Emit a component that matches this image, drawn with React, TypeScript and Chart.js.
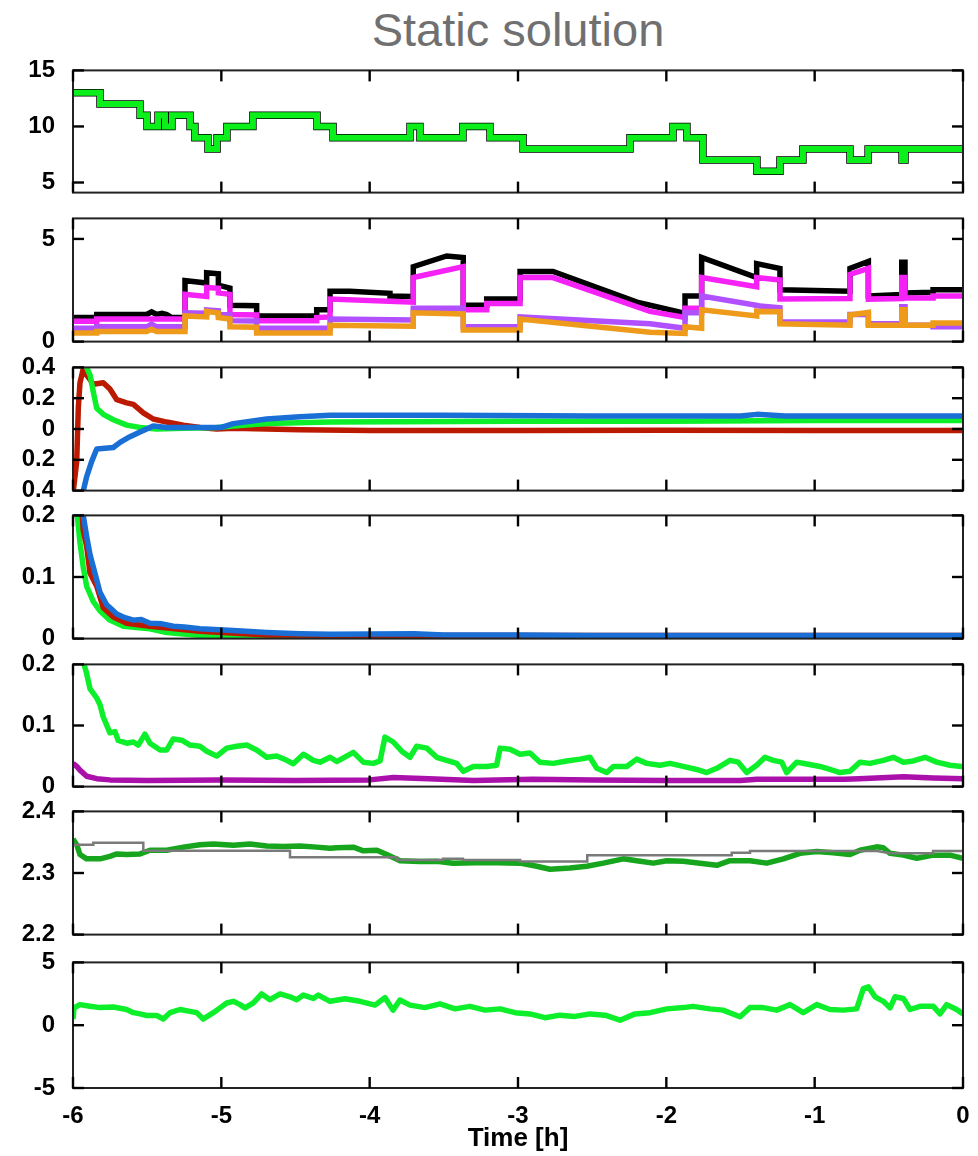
import React, { useEffect, useRef } from 'react';
import { Chart, registerables } from 'chart.js';

Chart.register(...registerables);

type Pt = [number, number];

// ---------- axis ticks ----------
const X_TICKS = [-6, -5, -4, -3, -2, -1, 0];
const P1_TICKS = [5, 10, 15];
const P2_TICKS = [0, 5];
const P3_TICKS = [-0.4, -0.2, 0, 0.2, 0.4];
const P4_TICKS = [0, 0.1, 0.2];
const P5_TICKS = [0, 0.1, 0.2];
const P6_TICKS = [2.2, 2.3, 2.4];
const P7_TICKS = [-5, 0, 5];

// ---------- panel 1 (stepped) ----------
const P1_STEPS: Pt[] = [
  [-6, 13], [-5.818, 12], [-5.548, 11], [-5.501, 10], [-5.427, 11], [-5.38, 10], [-5.333, 11],
  [-5.211, 10], [-5.178, 9], [-5.09, 8], [-5.029, 9], [-4.962, 10], [-4.787, 11], [-4.355, 10],
  [-4.247, 9], [-3.728, 10], [-3.661, 9], [-3.371, 10], [-3.189, 9], [-2.966, 8], [-2.245, 9],
  [-1.955, 10], [-1.861, 9], [-1.753, 7], [-1.389, 6], [-1.234, 7], [-1.079, 8], [-0.762, 7],
  [-0.64, 8], [-0.411, 7], [-0.391, 8], [0, 8],
];

// ---------- panel 2 ----------
const P2_BLACK: Pt[] = [
  [-6, 1.17], [-5.84, 1.17], [-5.84, 1.32], [-5.503, 1.32], [-5.47, 1.45], [-5.436, 1.32], [-5.4, 1.38],
  [-5.368, 1.32], [-5.335, 1.17], [-5.245, 1.17], [-5.245, 2.97], [-5.099, 2.85], [-5.099, 3.35],
  [-5.02, 3.3], [-5.02, 2.75], [-4.942, 2.6], [-4.942, 1.77], [-4.762, 1.75], [-4.762, 1.25],
  [-4.357, 1.25], [-4.357, 1.55], [-4.267, 1.55], [-4.267, 2.45], [-4.133, 2.45], [-3.863, 2.35],
  [-3.863, 2.22], [-3.706, 2.2], [-3.706, 3.65], [-3.481, 4.17], [-3.369, 4.1], [-3.369, 1.77],
  [-3.211, 1.77], [-3.211, 2.07], [-2.986, 2.07], [-2.986, 3.42], [-2.764, 3.42], [-2.198, 1.92],
  [-2.11, 1.77], [-1.886, 1.4], [-1.874, 1.4], [-1.874, 2.22], [-1.762, 2.22], [-1.762, 4.1],
  [-1.391, 3.12], [-1.391, 3.8], [-1.234, 3.56], [-1.234, 2.52], [-0.762, 2.45], [-0.762, 3.57],
  [-0.638, 3.9], [-0.638, 2.22], [-0.413, 2.3], [-0.413, 3.87], [-0.391, 3.87], [-0.391, 2.37],
  [-0.202, 2.4], [-0.202, 2.52], [0, 2.52],
];
const P2_MAGENTA: Pt[] = [
  [-6, 0.99], [-5.84, 0.99], [-5.84, 1.1], [-5.245, 1.1], [-5.245, 2.3], [-5.099, 2.2], [-5.099, 2.64],
  [-5.02, 2.6], [-5.02, 2.37], [-4.942, 2.3], [-4.942, 1.32], [-4.762, 1.3], [-4.762, 1.02],
  [-4.357, 1.02], [-4.357, 1.17], [-4.267, 1.2], [-4.267, 2.07], [-3.706, 1.92], [-3.706, 3.12],
  [-3.369, 3.65], [-3.369, 1.55], [-3.211, 1.55], [-3.211, 1.85], [-2.986, 1.85], [-2.986, 3.12],
  [-2.764, 3.12], [-2.11, 1.47], [-1.874, 1.17], [-1.874, 1.62], [-1.762, 1.62], [-1.762, 3.12],
  [-1.391, 2.67], [-1.391, 3.12], [-1.234, 3.0], [-1.234, 2.07], [-0.762, 2.1], [-0.762, 3.27],
  [-0.638, 3.57], [-0.638, 2.07], [-0.413, 2.1], [-0.413, 3.12], [-0.391, 3.12], [-0.391, 2.12],
  [-0.202, 2.12], [-0.202, 2.22], [0, 2.22],
];
const P2_PURPLE: Pt[] = [
  [-6, 0.65], [-5.84, 0.65], [-5.84, 0.72], [-5.503, 0.72], [-5.47, 0.85], [-5.436, 0.72], [-5.245, 0.72],
  [-5.245, 1.4], [-5.099, 1.38], [-5.099, 1.54], [-5.02, 1.5], [-5.02, 1.32], [-4.942, 1.3],
  [-4.942, 1.02], [-4.762, 1.0], [-4.762, 0.65], [-4.267, 0.65], [-4.267, 1.1], [-3.706, 1.05],
  [-3.706, 1.62], [-3.369, 1.62], [-3.369, 0.72], [-2.986, 0.72], [-2.986, 1.2], [-2.11, 0.87],
  [-1.874, 0.65], [-1.874, 1.4], [-1.762, 1.4], [-1.762, 2.22], [-1.391, 1.77], [-1.391, 1.75],
  [-1.234, 1.65], [-1.234, 0.95], [-0.762, 0.95], [-0.762, 1.32], [-0.638, 1.32], [-0.638, 0.87],
  [-0.413, 0.87], [-0.413, 1.7], [-0.391, 1.7], [-0.391, 0.8], [-0.202, 0.8], [-0.202, 0.72], [0, 0.72],
];
const P2_ORANGE: Pt[] = [
  [-6, 0.42], [-5.84, 0.42], [-5.84, 0.49], [-5.503, 0.49], [-5.47, 0.6], [-5.436, 0.49], [-5.245, 0.49],
  [-5.245, 1.25], [-5.099, 1.2], [-5.099, 1.47], [-5.02, 1.4], [-5.02, 1.17], [-4.942, 1.1],
  [-4.942, 0.72], [-4.762, 0.7], [-4.762, 0.42], [-4.267, 0.42], [-4.267, 0.8], [-3.706, 0.75],
  [-3.706, 1.4], [-3.369, 1.35], [-3.369, 0.57], [-2.986, 0.57], [-2.986, 1.1], [-2.11, 0.45],
  [-1.874, 0.4], [-1.874, 0.72], [-1.762, 0.65], [-1.762, 1.55], [-1.391, 1.25], [-1.391, 1.47],
  [-1.234, 1.45], [-1.234, 0.87], [-0.762, 0.8], [-0.762, 1.3], [-0.638, 1.42], [-0.638, 0.8],
  [-0.413, 0.8], [-0.413, 1.55], [-0.391, 1.55], [-0.391, 0.8], [-0.202, 0.8], [-0.202, 0.9], [0, 0.9],
];

// ---------- panel 3 ----------
const P3_RED: Pt[] = [
  [-6, -0.42], [-5.975, -0.21], [-5.964, 0.14], [-5.953, 0.3], [-5.931, 0.39], [-5.908, 0.35],
  [-5.885, 0.32], [-5.863, 0.29], [-5.796, 0.3], [-5.751, 0.26], [-5.705, 0.19], [-5.638, 0.17],
  [-5.593, 0.16], [-5.526, 0.105], [-5.459, 0.065], [-5.368, 0.045], [-5.256, 0.025], [-5.144, 0.01],
  [-5.031, 0.0], [-4.919, 0.005], [-4.694, 0.0], [-4.47, -0.005], [-4.0, -0.01], [-3.0, -0.01],
  [-2.0, -0.008], [-1.0, -0.01], [0, -0.01],
];
const P3_GREEN: Pt[] = [
  [-5.92, 0.42], [-5.908, 0.4], [-5.885, 0.35], [-5.863, 0.24], [-5.84, 0.135], [-5.796, 0.095],
  [-5.728, 0.06], [-5.638, 0.025], [-5.548, 0.01], [-5.436, 0.0], [-5.256, 0.005], [-5.031, 0.01],
  [-4.919, 0.02], [-4.694, 0.035], [-4.267, 0.045], [-3.0, 0.05], [-2.0, 0.05], [-1.0, 0.055], [0, 0.055],
];
const P3_BLUE: Pt[] = [
  [-5.935, -0.42], [-5.908, -0.31], [-5.874, -0.21], [-5.84, -0.13], [-5.728, -0.12], [-5.683, -0.087],
  [-5.616, -0.05], [-5.548, -0.02], [-5.459, 0.02], [-5.368, 0.01], [-5.144, 0.01], [-5.0, 0.01],
  [-4.919, 0.035], [-4.694, 0.065], [-4.47, 0.08], [-4.267, 0.09], [-3.5, 0.09], [-2.5, 0.085],
  [-1.5, 0.085], [-1.39, 0.095], [-1.2, 0.085], [0, 0.085],
];

// ---------- panel 4 ----------
const P4_GREEN: Pt[] = [
  [-5.975, 0.21], [-5.953, 0.156], [-5.931, 0.116], [-5.908, 0.085], [-5.863, 0.06], [-5.818, 0.045],
  [-5.751, 0.03], [-5.661, 0.02], [-5.481, 0.016], [-5.368, 0.01], [-5.144, 0.005], [-4.919, 0.003],
  [-4.694, 0.002], [-3.5, 0.002], [-2.0, 0.002], [0, 0.002],
];
const P4_RED: Pt[] = [
  [-5.94, 0.21], [-5.931, 0.176], [-5.908, 0.15], [-5.885, 0.106], [-5.84, 0.085], [-5.796, 0.05],
  [-5.728, 0.035], [-5.638, 0.025], [-5.481, 0.02], [-5.144, 0.012], [-4.694, 0.006], [-4.0, 0.005],
  [-2.0, 0.005], [0, 0.005],
];
const P4_BLUE: Pt[] = [
  [-5.936, 0.21], [-5.931, 0.2], [-5.908, 0.166], [-5.885, 0.136], [-5.852, 0.106], [-5.818, 0.075],
  [-5.773, 0.055], [-5.75, 0.05], [-5.705, 0.04], [-5.65, 0.034], [-5.593, 0.03], [-5.54, 0.031],
  [-5.481, 0.025], [-5.4, 0.024], [-5.324, 0.02], [-5.25, 0.019], [-5.144, 0.016], [-4.919, 0.013],
  [-4.694, 0.01], [-4.47, 0.008], [-4.267, 0.007], [-3.7, 0.008], [-3.5, 0.006], [-3, 0.006],
  [-2.5, 0.005], [-1.5, 0.005], [-1, 0.005], [0, 0.005],
];

// ---------- panel 5 ----------
const P5_GREEN: Pt[] = [
  [-5.931, 0.205], [-5.908, 0.185], [-5.885, 0.16], [-5.84, 0.145], [-5.818, 0.134], [-5.796, 0.114],
  [-5.751, 0.088], [-5.717, 0.09], [-5.695, 0.0755], [-5.638, 0.071], [-5.593, 0.073], [-5.56, 0.068],
  [-5.515, 0.086], [-5.481, 0.071], [-5.413, 0.06], [-5.368, 0.06], [-5.324, 0.078], [-5.267, 0.076],
  [-5.211, 0.068], [-5.144, 0.066], [-5.099, 0.058], [-5.031, 0.05], [-4.964, 0.063], [-4.896, 0.066],
  [-4.829, 0.068], [-4.762, 0.06], [-4.694, 0.048], [-4.627, 0.05], [-4.559, 0.043], [-4.515, 0.0375],
  [-4.447, 0.053], [-4.38, 0.043], [-4.335, 0.04], [-4.267, 0.048], [-4.222, 0.041], [-4.11, 0.056],
  [-4.043, 0.04], [-3.975, 0.038], [-3.93, 0.042], [-3.897, 0.081], [-3.841, 0.073], [-3.784, 0.058],
  [-3.728, 0.048], [-3.683, 0.066], [-3.615, 0.063], [-3.548, 0.048], [-3.481, 0.043], [-3.413, 0.038],
  [-3.369, 0.025], [-3.301, 0.033], [-3.211, 0.033], [-3.144, 0.035], [-3.121, 0.063], [-3.054, 0.061],
  [-2.986, 0.053], [-2.919, 0.055], [-2.852, 0.04], [-2.762, 0.038], [-2.672, 0.042], [-2.582, 0.045],
  [-2.515, 0.048], [-2.469, 0.03], [-2.402, 0.023], [-2.357, 0.033], [-2.267, 0.033], [-2.2, 0.045],
  [-2.132, 0.038], [-2.043, 0.035], [-1.975, 0.038], [-1.887, 0.033], [-1.795, 0.028], [-1.728, 0.023],
  [-1.66, 0.03], [-1.571, 0.043], [-1.515, 0.04], [-1.458, 0.023], [-1.391, 0.035], [-1.335, 0.048],
  [-1.279, 0.043], [-1.222, 0.04], [-1.189, 0.023], [-1.121, 0.04], [-1.054, 0.037], [-0.964, 0.033],
  [-0.897, 0.028], [-0.829, 0.023], [-0.762, 0.025], [-0.694, 0.04], [-0.627, 0.038], [-0.537, 0.043],
  [-0.47, 0.048], [-0.402, 0.04], [-0.335, 0.042], [-0.256, 0.048], [-0.177, 0.04], [-0.088, 0.035],
  [-0.009, 0.033], [0, 0.033],
];
const P5_PURPLE: Pt[] = [
  [-6, 0.038], [-5.975, 0.033], [-5.953, 0.027], [-5.908, 0.017], [-5.84, 0.013], [-5.751, 0.011],
  [-5.5, 0.01], [-5.0, 0.011], [-4.5, 0.01], [-4.0, 0.011], [-3.84, 0.015], [-3.6, 0.013], [-3.3, 0.01],
  [-2.9, 0.012], [-2.5, 0.011], [-2.0, 0.01], [-1.5, 0.01], [-1.39, 0.012], [-0.8, 0.012], [-0.7, 0.013],
  [-0.4, 0.016], [-0.2, 0.014], [0, 0.013],
];

// ---------- panel 6 ----------
const P6_GRAY: Pt[] = [
  [-6, 2.346], [-5.863, 2.346], [-5.863, 2.349], [-5.526, 2.349], [-5.526, 2.336], [-4.537, 2.336],
  [-4.537, 2.3256], [-3.816, 2.3256], [-3.816, 2.321], [-3.506, 2.321], [-3.506, 2.323], [-3.371, 2.323],
  [-3.371, 2.321], [-2.986, 2.321], [-2.986, 2.3186], [-2.533, 2.3186], [-2.533, 2.3287], [-1.559, 2.3287],
  [-1.559, 2.333], [-1.436, 2.333], [-1.436, 2.3357], [-0.58, 2.3357], [-0.492, 2.332], [-0.202, 2.332],
  [-0.202, 2.3357], [0, 2.3357],
];
const P6_GREEN: Pt[] = [
  [-6, 2.355], [-5.975, 2.346], [-5.953, 2.33], [-5.908, 2.323], [-5.818, 2.323], [-5.751, 2.327],
  [-5.705, 2.331], [-5.638, 2.33], [-5.548, 2.331], [-5.481, 2.337], [-5.368, 2.337], [-5.256, 2.342],
  [-5.144, 2.346], [-5.054, 2.347], [-4.919, 2.345], [-4.807, 2.347], [-4.694, 2.344], [-4.582, 2.343],
  [-4.47, 2.344], [-4.357, 2.342], [-4.267, 2.34], [-4.222, 2.341], [-4.11, 2.342], [-4.043, 2.336],
  [-3.951, 2.337], [-3.885, 2.33], [-3.795, 2.32], [-3.661, 2.3186], [-3.548, 2.319], [-3.438, 2.316],
  [-3.211, 2.317], [-2.986, 2.316], [-2.874, 2.311], [-2.784, 2.306], [-2.649, 2.308], [-2.537, 2.311],
  [-2.425, 2.316], [-2.29, 2.323], [-2.2, 2.32], [-2.088, 2.316], [-1.997, 2.32], [-1.886, 2.319],
  [-1.773, 2.316], [-1.66, 2.3125], [-1.571, 2.32], [-1.436, 2.32], [-1.323, 2.316], [-1.211, 2.323],
  [-1.099, 2.332], [-0.986, 2.335], [-0.874, 2.333], [-0.762, 2.33], [-0.694, 2.337], [-0.582, 2.3425],
  [-0.537, 2.341], [-0.492, 2.332], [-0.402, 2.329], [-0.312, 2.324], [-0.2, 2.329], [-0.088, 2.329],
  [0, 2.324],
];

// ---------- panel 7 ----------
const P7_GREEN: Pt[] = [
  [-6, 0.49], [-5.993, 1.38], [-5.953, 1.64], [-5.885, 1.51], [-5.818, 1.4], [-5.728, 1.45], [-5.638, 1.25],
  [-5.593, 1.0], [-5.548, 0.9], [-5.503, 0.77], [-5.436, 0.77], [-5.391, 0.49], [-5.346, 1.0],
  [-5.279, 1.25], [-5.211, 1.1], [-5.166, 1.0], [-5.122, 0.49], [-5.054, 1.0], [-5.009, 1.38],
  [-4.964, 1.77], [-4.919, 1.9], [-4.874, 1.64], [-4.84, 1.38], [-4.784, 1.77], [-4.728, 2.49],
  [-4.672, 2.03], [-4.604, 2.49], [-4.537, 2.26], [-4.492, 2.03], [-4.447, 2.4], [-4.38, 2.13],
  [-4.346, 2.4], [-4.267, 1.9], [-4.166, 2.1], [-4.065, 1.9], [-3.964, 1.6], [-3.897, 2.2],
  [-3.843, 1.2], [-3.796, 2.0], [-3.728, 1.6], [-3.627, 1.4], [-3.526, 1.7], [-3.425, 1.3],
  [-3.324, 1.5], [-3.222, 1.2], [-3.121, 1.3], [-3.02, 1.0], [-2.919, 0.9], [-2.818, 0.6],
  [-2.717, 0.8], [-2.616, 0.7], [-2.515, 0.9], [-2.413, 0.8], [-2.312, 0.4], [-2.211, 0.9],
  [-2.11, 1.0], [-1.997, 1.3], [-1.886, 1.4], [-1.82, 1.5], [-1.706, 1.3], [-1.618, 1.2],
  [-1.503, 0.67], [-1.436, 1.4], [-1.348, 1.4], [-1.256, 1.2], [-1.166, 1.64], [-1.077, 1.0],
  [-0.986, 1.64], [-0.897, 1.25], [-0.807, 1.2], [-0.717, 1.3], [-0.672, 2.92], [-0.638, 3.05],
  [-0.593, 2.26], [-0.537, 1.9], [-0.492, 1.38], [-0.458, 2.26], [-0.402, 2.13], [-0.357, 1.25],
  [-0.29, 1.5], [-0.2, 1.5], [-0.155, 0.9], [-0.11, 1.64], [-0.043, 1.25], [0, 0.9],
];

// ---------- rendering ----------
const FONT_FAMILY = '"Liberation Sans", Arial, sans-serif';
const PAD = 20;
const CANVAS_W = 978;
const RIGHT_PAD = 15;
const Y_AXIS_W = 73;
const TICK_LEN = 11;

interface Series { data: Pt[]; color: string; width: number; stepped?: boolean; join?: CanvasLineJoin }
interface PanelDef {
  top: number; bottom: number; min: number; max: number; ticks: number[];
  series: Series[]; label?: (v: number) => string; last?: boolean;
}

function makeFramePlugin(def: PanelDef) {
  return {
    id: 'frameTicks',
    afterDraw(chart: any) {
      const ctx: CanvasRenderingContext2D = chart.ctx;
      const a = chart.chartArea;
      ctx.save();
      ctx.strokeStyle = '#222222';
      ctx.lineWidth = 2;
      ctx.strokeRect(a.left, a.top, a.right - a.left, a.bottom - a.top);
      ctx.strokeStyle = '#000000';
      ctx.lineWidth = 2.4;
      X_TICKS.forEach((v) => {
        const px = chart.scales.x.getPixelForValue(v);
        ctx.beginPath(); ctx.moveTo(px, a.top); ctx.lineTo(px, a.top + TICK_LEN); ctx.stroke();
        ctx.beginPath(); ctx.moveTo(px, a.bottom); ctx.lineTo(px, a.bottom - TICK_LEN); ctx.stroke();
      });
      def.ticks.forEach((v) => {
        const py = chart.scales.y.getPixelForValue(v);
        ctx.beginPath(); ctx.moveTo(a.left, py); ctx.lineTo(a.left + TICK_LEN, py); ctx.stroke();
        ctx.beginPath(); ctx.moveTo(a.right, py); ctx.lineTo(a.right - TICK_LEN, py); ctx.stroke();
      });
      ctx.restore();
    },
  };
}

const PANELS: PanelDef[] = [
  {
    top: 66, bottom: 197, min: 4.1, max: 15, ticks: P1_TICKS,
    series: [
      { data: P1_STEPS, color: '#0BEF1A', width: 6, stepped: true, join: 'miter' },
      { data: P1_STEPS, color: '#000000', width: 7.5, stepped: true, join: 'miter' },
    ],
  },
  {
    top: 214, bottom: 346, min: 0, max: 6, ticks: P2_TICKS,
    series: [
      { data: P2_ORANGE, color: '#EE9A1A', width: 5.5, join: 'miter' },
      { data: P2_PURPLE, color: '#B050FF', width: 5.5, join: 'miter' },
      { data: P2_MAGENTA, color: '#F522F5', width: 5.5, join: 'miter' },
      { data: P2_BLACK, color: '#000000', width: 5.5, join: 'miter' },
    ],
  },
  {
    top: 363, bottom: 495, min: -0.4, max: 0.4, ticks: P3_TICKS, label: (v) => String(Math.abs(v)),
    series: [
      { data: P3_BLUE, color: '#1A6FD6', width: 5.5 },
      { data: P3_GREEN, color: '#0CEF2A', width: 5.5 },
      { data: P3_RED, color: '#BB1A00', width: 5.5 },
    ],
  },
  {
    top: 511, bottom: 643, min: 0, max: 0.2, ticks: P4_TICKS,
    series: [
      { data: P4_BLUE, color: '#1A6FD6', width: 5.5 },
      { data: P4_RED, color: '#BB1A00', width: 5.5 },
      { data: P4_GREEN, color: '#0CEF2A', width: 5.5 },
    ],
  },
  {
    top: 660, bottom: 791, min: 0, max: 0.2, ticks: P5_TICKS,
    series: [
      { data: P5_GREEN, color: '#0CEF2A', width: 5.5 },
      { data: P5_PURPLE, color: '#AA10AA', width: 5.5 },
    ],
  },
  {
    top: 807, bottom: 939, min: 2.2, max: 2.4, ticks: P6_TICKS,
    series: [
      { data: P6_GRAY, color: '#7A7A7A', width: 2.5, join: 'miter' },
      { data: P6_GREEN, color: '#16A51C', width: 5.5 },
    ],
  },
  {
    top: 958, bottom: 1088, min: -5, max: 5, ticks: P7_TICKS, last: true,
    series: [{ data: P7_GREEN, color: '#0CEF2A', width: 5.5 }],
  },
];

const X_AXIS_H = 70;

function Panel({ def }: { def: PanelDef }) {
  const ref = useRef<HTMLCanvasElement | null>(null);
  const canvasTop = def.top - PAD;
  const canvasH = def.last ? def.bottom - canvasTop + X_AXIS_H : def.bottom - def.top + 2 * PAD;

  useEffect(() => {
    if (!ref.current) return;
    const tickFont = { family: FONT_FAMILY, size: 24, weight: 'bold' as const };
    const chart = new Chart(ref.current, {
      type: 'line',
      data: {
        datasets: def.series.map((s) => ({
          data: s.data.map(([x, y]) => ({ x, y })),
          borderColor: s.color,
          backgroundColor: s.color,
          borderWidth: s.width,
          pointRadius: 0,
          tension: 0,
          fill: false,
          stepped: s.stepped ? 'before' : false,
          borderJoinStyle: s.join ?? 'round',
          borderCapStyle: 'butt',
          clip: 0,
        })),
      } as any,
      options: {
        animation: false,
        responsive: false,
        maintainAspectRatio: false,
        events: [],
        layout: { padding: { top: PAD, bottom: def.last ? 0 : PAD, left: 0, right: RIGHT_PAD } },
        plugins: { legend: { display: false }, tooltip: { enabled: false }, title: { display: false } },
        scales: {
          x: {
            type: 'linear',
            min: -6,
            max: 0,
            display: !!def.last,
            afterBuildTicks: (s: any) => { s.ticks = X_TICKS.map((v) => ({ value: v })); },
            afterFit: (s: any) => { if (def.last) s.height = X_AXIS_H; },
            grid: { display: false },
            border: { display: false },
            ticks: { font: tickFont, color: '#000', padding: 6, maxRotation: 0, callback: (v: any) => String(v) },
            title: {
              display: !!def.last,
              text: 'Time [h]',
              color: '#000',
              font: { family: FONT_FAMILY, size: 26, weight: 'bold' },
              padding: { top: 2, bottom: 4 },
            },
          },
          y: {
            type: 'linear',
            min: def.min,
            max: def.max,
            afterBuildTicks: (s: any) => { s.ticks = def.ticks.map((v) => ({ value: v })); },
            afterFit: (s: any) => { s.width = Y_AXIS_W; },
            grid: { display: false },
            border: { display: false },
            ticks: {
              font: tickFont,
              color: '#000',
              padding: 10,
              callback: (v: any) => (def.label ? def.label(Number(v)) : String(v)),
            },
          },
        },
      } as any,
      plugins: [makeFramePlugin(def)],
    });
    return () => chart.destroy();
  }, [def]);

  return (
    <canvas
      ref={ref}
      width={CANVAS_W}
      height={canvasH}
      style={{ position: 'absolute', left: 0, top: canvasTop, width: CANVAS_W, height: canvasH }}
    />
  );
}

export default function App() {
  return (
    <div style={{ position: 'fixed', inset: 0, background: '#fff', overflow: 'hidden' }}>
      <div
        style={{
          position: 'absolute', top: 6, left: 73, width: 890, textAlign: 'center',
          fontFamily: FONT_FAMILY, fontSize: 47, lineHeight: '47px', color: '#707070',
        }}
      >
        Static solution
      </div>
      {PANELS.map((p, i) => (
        <Panel key={i} def={p} />
      ))}
    </div>
  );
}
